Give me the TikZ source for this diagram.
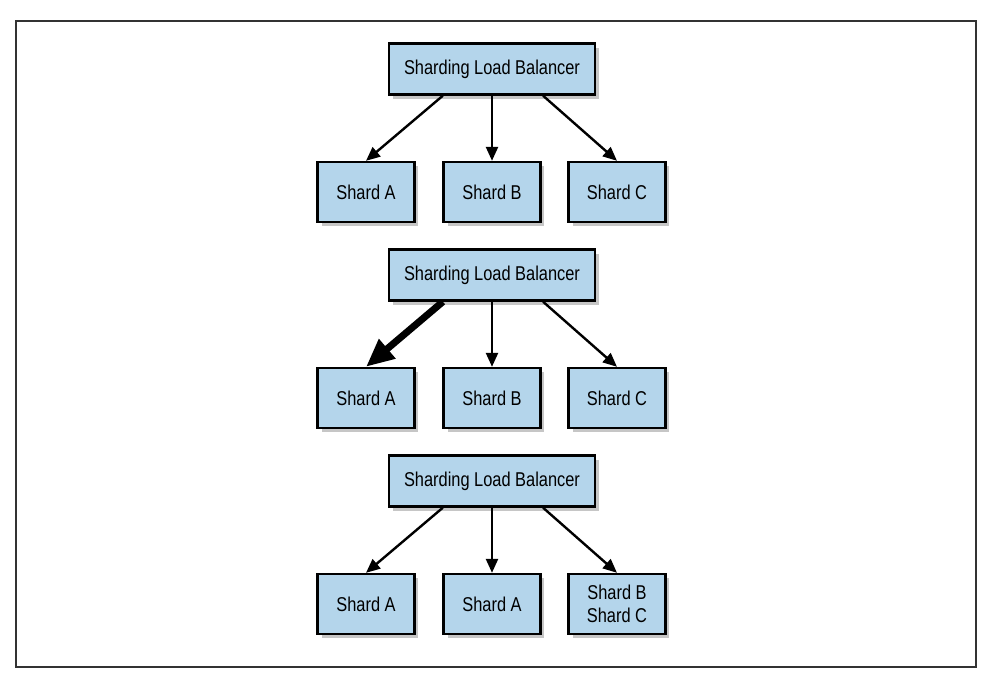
\documentclass[tikz,border=0pt]{standalone}
\usepackage{fontspec}
\setmainfont{Liberation Sans}[FakeStretch=0.82]
\usetikzlibrary{arrows.meta,shadows,calc}
\definecolor{shardblue}{RGB}{180,213,235}

\begin{document}
\begin{tikzpicture}[x=0.5pt,y=-0.5pt,
	box/.style={draw=black, line width=1.2pt, fill=shardblue, inner sep=0pt, align=center, font=\fontsize{10}{11.5}\selectfont, drop shadow={shadow xshift=2pt, shadow yshift=-2pt, opacity=0.45}},
	lbbox/.style={box, minimum width=103pt, minimum height=25.5pt},
	shardbox/.style={box, minimum width=48.4pt, minimum height=30pt},
	link/.style={line width=1.2pt, -{Triangle[length=7pt,width=6pt]}},
	heavy/.style={line width=3.5pt, -{Triangle[length=14pt,width=12pt]}}]
	\useasboundingbox (0,0) rectangle (992,677);
	\draw [line width=1pt, black!80] (16,21) rectangle (976,667);

	\node [lbbox] (lb1) at (492,69) {Sharding Load Balancer};
	\node [shardbox] (a1) at (366,192) {Shard A};
	\node [shardbox] (b1) at (492,192) {Shard B};
	\node [shardbox] (c1) at (617,192) {Shard C};
	\draw [link] ($(lb1.south west)!0.264!(lb1.south east)$) -- (a1.north);
	\draw [link] (lb1.south) -- (b1.north);
	\draw [link] ($(lb1.south west)!0.745!(lb1.south east)$) -- (c1.north);

	\node [lbbox] (lb2) at (492,275) {Sharding Load Balancer};
	\node [shardbox] (a2) at (366,398) {Shard A};
	\node [shardbox] (b2) at (492,398) {Shard B};
	\node [shardbox] (c2) at (617,398) {Shard C};
	\draw [heavy] ($(lb2.south west)!0.264!(lb2.south east)$) -- (a2.north);
	\draw [link] (lb2.south) -- (b2.north);
	\draw [link] ($(lb2.south west)!0.745!(lb2.south east)$) -- (c2.north);

	\node [lbbox] (lb3) at (492,481) {Sharding Load Balancer};
	\node [shardbox] (a3) at (366,604) {Shard A};
	\node [shardbox] (b3) at (492,604) {Shard A};
	\node [shardbox] (c3) at (617,604) {Shard B\\Shard C};
	\draw [link] ($(lb3.south west)!0.264!(lb3.south east)$) -- (a3.north);
	\draw [link] (lb3.south) -- (b3.north);
	\draw [link] ($(lb3.south west)!0.745!(lb3.south east)$) -- (c3.north);
\end{tikzpicture}
\end{document}
